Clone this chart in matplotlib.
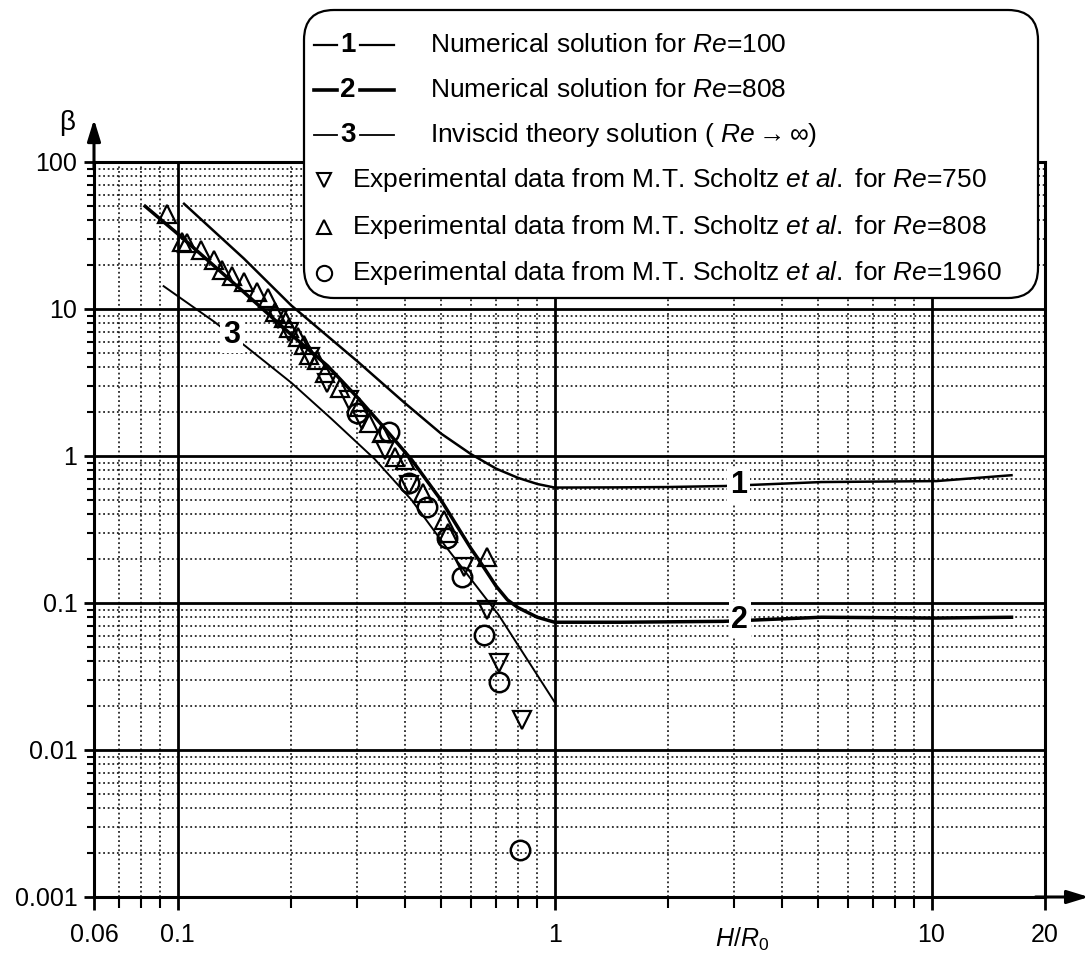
import matplotlib
matplotlib.use('Agg')
import matplotlib.pyplot as plt
from matplotlib.patches import FancyBboxPatch
from matplotlib.lines import Line2D
from matplotlib.ticker import FixedLocator, NullFormatter

plt.rcParams['font.family'] = ['Liberation Sans', 'DejaVu Sans']
plt.rcParams['mathtext.fontset'] = 'custom'
plt.rcParams['mathtext.rm'] = 'Liberation Sans'
plt.rcParams['mathtext.it'] = 'Liberation Sans:italic'
plt.rcParams['mathtext.bf'] = 'Liberation Sans:bold'

# ---------------- data ----------------
re100_x = [0.104, 0.15, 0.2, 0.3, 0.4, 0.5, 0.6, 0.7, 0.8, 0.9, 1.0, 1.5, 2.0, 2.83, 5.1, 10.3, 16.3]
re100_y = [52, 22, 10.6, 4.4, 2.3, 1.42, 1.03, 0.82, 0.71, 0.645, 0.61, 0.612, 0.615, 0.625, 0.665, 0.675, 0.74]

re808_num_x = [0.082, 0.1, 0.15, 0.2, 0.25, 0.3, 0.35, 0.418, 0.5, 0.6, 0.63, 0.7, 0.75, 0.8, 0.9, 1.0, 1.5, 2.8, 5.1, 10.3, 16.3]
re808_num_y = [50, 32.5, 13, 6.7, 4.1, 2.5, 1.6, 0.94, 0.5, 0.235, 0.196, 0.13, 0.105, 0.093, 0.08, 0.074, 0.074, 0.075, 0.08, 0.079, 0.08]

inviscid_x = [0.0918, 0.1253, 0.1524, 0.2006, 0.2562, 0.3331, 0.4175, 0.5107, 0.7104, 1.0]
inviscid_y = [14.3, 8.16, 5.51, 3.14, 1.785, 0.954, 0.502, 0.248, 0.083, 0.0212]

exp750_x = [0.185, 0.197, 0.224, 0.249, 0.284, 0.308, 0.354, 0.41, 0.574, 0.66, 0.71, 0.818]
exp750_y = [8.6, 6.98, 4.71, 3.14, 2.4, 1.76, 1.10, 0.635, 0.176, 0.09, 0.039, 0.016]

exp808_x = [0.0935, 0.1026, 0.106, 0.115, 0.1245, 0.131, 0.139, 0.150, 0.162, 0.174, 0.181, 0.191,
            0.197, 0.209, 0.217, 0.223, 0.234, 0.246, 0.269, 0.302, 0.321, 0.348, 0.377, 0.40,
            0.449, 0.508, 0.523, 0.66]
exp808_y = [44, 28.6, 28.3, 25.2, 21.5, 18.4, 16.8, 15.3, 13.0, 11.9, 9.5, 8.7,
            7.4, 6.4, 5.7, 4.9, 4.5, 3.67, 2.9, 2.15, 1.68, 1.43, 0.985, 0.94,
            0.56, 0.367, 0.30, 0.205]

exp1960_x = [0.30, 0.363, 0.41, 0.458, 0.517, 0.567, 0.648, 0.71, 0.81]
exp1960_y = [1.96, 1.46, 0.655, 0.45, 0.277, 0.15, 0.0606, 0.029, 0.0021]

x_major = [0.06, 0.1, 1, 10, 20]
x_major_labels = ['0.06', '0.1', '1', '10', '20']
y_major = [0.001, 0.01, 0.1, 1, 10, 100]
y_major_labels = ['0.001', '0.01', '0.1', '1', '10', '100']

legend_lines = [
    ('1', r'Numerical solution for $\mathit{Re}$=100', 1.6),
    ('2', r'Numerical solution for $\mathit{Re}$=808', 2.6),
    ('3', r'Inviscid theory solution ( $\mathit{Re}$$\rightarrow\infty$)', 1.3),
]
legend_markers = [
    ('v', r'Experimental data from M.T. Scholtz $\mathit{et\ al.}$ for $\mathit{Re}$=750'),
    ('^', r'Experimental data from M.T. Scholtz $\mathit{et\ al.}$ for $\mathit{Re}$=808'),
    ('o', r'Experimental data from M.T. Scholtz $\mathit{et\ al.}$ for $\mathit{Re}$=1960'),
]

# ---------------- figure ----------------
W, H = 1090, 959
fig = plt.figure(figsize=(W / 100, H / 100), dpi=100)
L, R, T, B = 94, 1045, 162, 897
ax = fig.add_axes([L / W, 1 - B / H, (R - L) / W, (B - T) / H])
ax.set_xscale('log')
ax.set_yscale('log')
ax.set_xlim(0.06, 20)
ax.set_ylim(0.001, 100)

ax.set_xticks(x_major)
ax.set_xticklabels(x_major_labels)
ax.set_yticks(y_major)
ax.set_yticklabels(y_major_labels)
xminor = [0.07, 0.08, 0.09] + [k * 0.1 for k in range(2, 10)] + list(range(2, 10))
yminor = [k * 10.0 ** e for e in range(-3, 2) for k in range(2, 10)]
ax.xaxis.set_minor_locator(FixedLocator(xminor))
ax.yaxis.set_minor_locator(FixedLocator(yminor))
ax.xaxis.set_minor_formatter(NullFormatter())
ax.yaxis.set_minor_formatter(NullFormatter())

ax.set_axisbelow(True)
ax.grid(True, which='major', color='black', lw=2.0)
ax.grid(True, which='minor', color='black', lw=1.1, ls=(0, (1.2, 1.8)))
for s in ax.spines.values():
    s.set_linewidth(2.2)

ax.tick_params(axis='both', which='major', direction='out', width=2, labelsize=18)
ax.tick_params(axis='both', which='minor', direction='out', width=1.5)
ax.tick_params(axis='x', which='major', length=9, pad=10)
ax.tick_params(axis='x', which='minor', length=8)
ax.tick_params(axis='y', which='major', length=7, pad=5)
ax.tick_params(axis='y', which='minor', length=5)

# curves
ax.plot(re100_x, re100_y, color='black', lw=1.8, zorder=3)
ax.plot(re808_num_x, re808_num_y, color='black', lw=2.5, zorder=3)
ax.plot(inviscid_x, inviscid_y, color='black', lw=1.4, zorder=3)

# experimental points
ax.plot(exp750_x, exp750_y, ls='none', marker='v', ms=13, mfc='none', mec='black', mew=1.6, zorder=4)
ax.plot(exp808_x, exp808_y, ls='none', marker='^', ms=13, mfc='none', mec='black', mew=1.6, zorder=4)
ax.plot(exp1960_x, exp1960_y, ls='none', marker='o', ms=14, mfc='none', mec='black', mew=1.8, zorder=4)

# curve labels
lab_kw = dict(fontsize=22, fontweight='bold', ha='center', va='center', zorder=5,
              bbox=dict(fc='white', ec='none', pad=2))
ax.text(3.08, 0.635, '1', **lab_kw)
ax.text(3.1, 0.0766, '2', **lab_kw)
ax.text(0.139, 6.66, '3', **lab_kw)

# axis arrows and labels
ax.annotate('', xy=(0, 1.058), xytext=(0, 0.99), xycoords='axes fraction',
            arrowprops=dict(arrowstyle='-|>,head_length=1.3,head_width=0.4', lw=2.2, color='black',
                            shrinkA=0, shrinkB=0), annotation_clip=False)
ax.annotate('', xy=(1.046, 0), xytext=(0.99, 0), xycoords='axes fraction',
            arrowprops=dict(arrowstyle='-|>,head_length=1.3,head_width=0.4', lw=2.2, color='black',
                            shrinkA=0, shrinkB=0), annotation_clip=False)

def fx(px):
    return px / W

def fy(py):
    return 1 - py / H

fig.text(fx(67), fy(123), 'β', fontsize=20, ha='center', va='center')
fig.text(fx(742), fy(947), r'$\mathit{H/R_0}$', fontsize=18, ha='center', va='baseline')

# legend box
box = FancyBboxPatch((304 / 100, (H - 298) / 100), (1038 - 304) / 100, (298 - 10) / 100,
                     boxstyle='round,pad=0,rounding_size=0.3', transform=fig.dpi_scale_trans,
                     fc='white', ec='black', lw=1.6, zorder=10)
fig.add_artist(box)

rows_lines = [45, 90, 135]
for (num, txt, lw), py in zip(legend_lines, rows_lines):
    fig.add_artist(Line2D([fx(314), fx(337)], [fy(py), fy(py)], color='black', lw=lw, zorder=11))
    fig.add_artist(Line2D([fx(360), fx(394)], [fy(py), fy(py)], color='black', lw=lw, zorder=11))
    fig.text(fx(348), fy(py), num, fontsize=20, fontweight='bold', ha='center', va='center', zorder=12)
    fig.text(fx(430), fy(py), txt, fontsize=19, ha='left', va='center', zorder=12)

rows_markers = [180, 227, 273]
for (mk, txt), py in zip(legend_markers, rows_markers):
    ms = 11 if mk == 'o' else 10
    fig.add_artist(Line2D([fx(324)], [fy(py)], ls='none', marker=mk, ms=ms, mfc='none', mec='black',
                          mew=1.5, zorder=11))
    fig.text(fx(352), fy(py), txt, fontsize=19, ha='left', va='center', zorder=12)

fig.savefig('out.png', dpi=100, facecolor='white')
